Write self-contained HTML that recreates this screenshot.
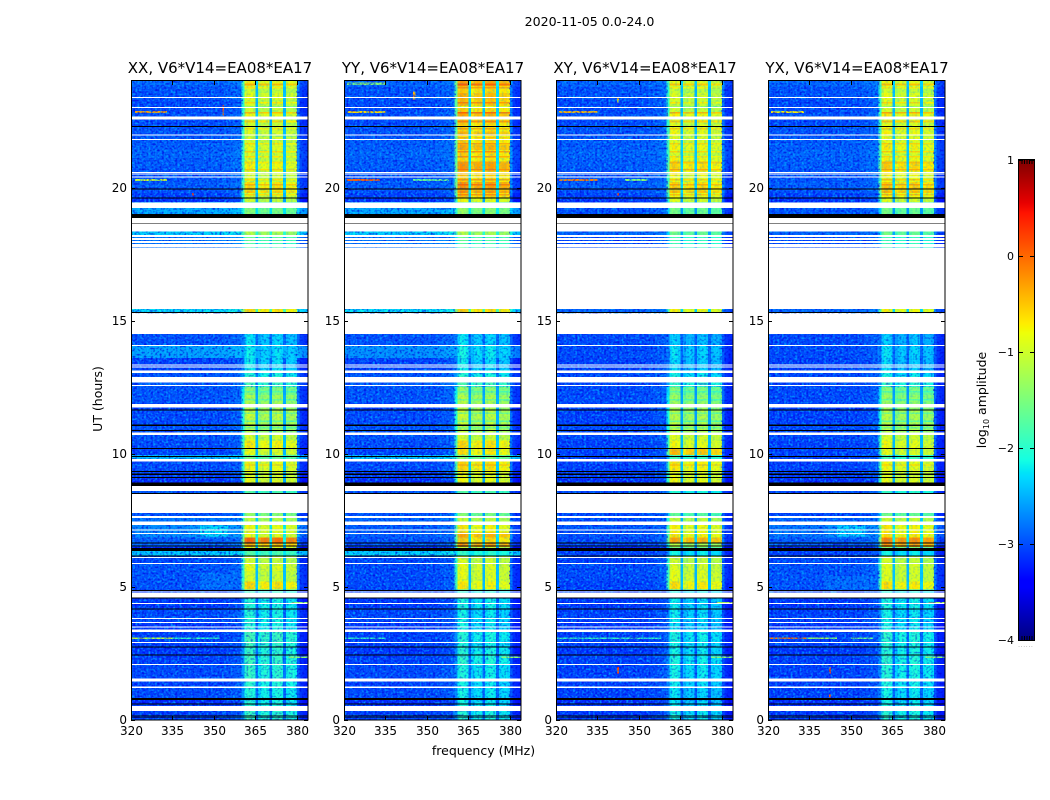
<!DOCTYPE html>
<html>
<head>
<meta charset="utf-8">
<title>Dynamic spectra</title>
<style>
html,body{margin:0;padding:0;background:#fff;width:1050px;height:800px;overflow:hidden}
svg{display:block;font-family:"DejaVu Sans","Liberation Sans",sans-serif;fill:#000}
</style>
</head>
<body>
<svg id="figure" xmlns="http://www.w3.org/2000/svg" width="1050" height="800" viewBox="0 0 1050 800">
  <defs>
    <filter id="speckle-light" x="0" y="0" width="100%" height="100%" color-interpolation-filters="sRGB">
      <feTurbulence type="fractalNoise" baseFrequency="0.45 0.48" numOctaves="1" seed="4"/>
      <feColorMatrix type="matrix" values="0 0 0 0 0  0 0 0 0 0.62  0 0 0 0 1  3.0 0 0 0 -1.35"/>
    </filter>
    <filter id="speckle-dark" x="0" y="0" width="100%" height="100%" color-interpolation-filters="sRGB">
      <feTurbulence type="fractalNoise" baseFrequency="0.45 0.48" numOctaves="1" seed="11"/>
      <feColorMatrix type="matrix" values="0 0 0 0 0  0 0 0 0 0  0 0 0 0 0.85  2.4 0 0 0 -1.15"/>
    </filter>
  </defs>
  <text x="589.5" y="26" font-size="12.6" text-anchor="middle">2020-11-05 0.0-24.0</text>
  <text x="483.5" y="755" font-size="12.5" text-anchor="middle">frequency (MHz)</text>
  <text transform="translate(102,399) rotate(-90)" font-size="12.5" text-anchor="middle">UT (hours)</text>
  <text transform="translate(986,400) rotate(-90)" font-size="12.5" text-anchor="middle">log<tspan font-size="8" dy="3">10</tspan><tspan dy="-3"> amplitude</tspan></text>
  <text x="1026" y="647" font-size="5" fill="#666" text-anchor="middle" letter-spacing="1">......</text>
</svg>
<script>
const panelTitles = ["XX, V6*V14=EA08*EA17", "YY, V6*V14=EA08*EA17", "XY, V6*V14=EA08*EA17", "YX, V6*V14=EA08*EA17"];
const xTicks = [320, 335, 350, 365, 380];
const yTicks = [0, 5, 10, 15, 20];
const colorbarTicks = [1, 0, -1, -2, -3, -4];

const bandEdges = [0, .34, .55, .83, 1.2, 1.5, 2.1, 2.45, 2.75, 2.95,
  3.3, 3.7, 4.2, 4.62, 4.9, 5.2, 5.6, 5.9, 6.15, 6.35,
  6.5, 6.62, 6.85, 7.05, 7.35, 7.6, 7.8, 8.5, 8.9, 9.1,
  9.35, 9.7, 9.95, 10.2, 10.5, 10.8, 11.1, 11.35, 11.65, 11.9,
  12.2, 12.5, 12.9, 13.15, 13.6, 14.05, 14.5, 15.28, 15.45, 17.7,
  18.0, 18.2, 18.35, 18.9, 19.25, 19.45, 19.6, 19.8, 20.0, 20.2,
  20.45, 20.7, 20.9, 21.1, 21.4, 21.6, 21.85, 22.1, 22.35, 22.6,
  22.8, 23.05, 23.3, 23.55, 23.8, 24];

const xxOff = [-3.1, -3.1, -3.2, -3.05, -3.1, -3.05, -3.1, -3.15, -3.1, -3.1,
  -3.15, -3.05, -3.15, -3.1, -3.0, -3.0, -3.0, -3.05, -2.35, -3.3,
  -2.9, -2.95, -2.7, -2.7, -2.8, -3.0, null, -3.0, -3.2, -3.1,
  -3.05, -2.4, -3.1, -3.05, -3.0, -3.0, -3.05, -3.05, -3.1, -3.0,
  -3.0, -2.95, -3.0, -3.1, -2.55, -3.0, null, -2.25, null, -2.8,
  -2.8, -2.3, null, -2.5, -2.5, -3.2, -3.1, -3.0, -2.95, -3.0,
  -3.0, -2.95, -2.95, -2.9, -2.95, -2.95, -3.0, -3.0, -3.05, -3.0,
  -3.05, -3.05, -3.0, -3.0, -2.9];
const xxOn = [-2.1, -2.1, -2.2, -2.2, -2.15, -2.1, -2.05, -2.1, -2.05, -2.0,
  -2.2, -2.2, -2.2, -2.1, -.75, -1.1, -1.0, -1.15, -1.9, -1.0,
  -.55, -.15, -1.0, -.95, -1.25, -1.5, null, -1.9, -1.0, -1.05,
  -.95, -1.7, -1.0, -.85, -1.1, -1.35, -1.25, -1.2, -1.35, -1.35,
  -1.55, -2.0, -2.2, -2.35, -2.35, -2.4, null, -.75, null, -1.9,
  -1.8, -1.3, null, -1.6, -1.7, -1.15, -1.05, -.65, -.8, -1.1,
  -1.05, -.9, -1.1, -1.1, -1.0, -1.1, -1.05, -1.1, -1.15, -.95,
  -1.15, -1.1, -1.0, -1.15, -.9];

const yyOff = [-3.1, -3.1, -3.2, -3.05, -3.1, -3.05, -3.1, -3.15, -3.1, -3.1,
  -3.15, -3.05, -3.15, -3.1, -3.05, -3.05, -3.05, -3.05, -2.3, -3.3,
  -3.0, -3.0, -2.95, -2.95, -2.9, -3.0, null, -3.0, -3.2, -3.1,
  -3.05, -2.35, -3.1, -3.05, -3.0, -3.0, -3.05, -3.05, -3.1, -3.0,
  -3.0, -2.95, -3.0, -3.1, -2.65, -3.0, null, -2.25, null, -2.8,
  -2.8, -2.3, null, -2.5, -2.5, -3.2, -3.1, -3.0, -2.95, -3.0,
  -3.0, -2.95, -2.95, -2.9, -2.95, -2.95, -3.0, -3.0, -3.05, -3.0,
  -3.05, -3.05, -3.0, -3.0, -2.9];
const yyOn = [-2.2, -2.2, -2.3, -2.3, -2.3, -2.25, -2.15, -2.2, -2.25, -2.2,
  -2.3, -2.3, -2.25, -2.2, -.85, -1.0, -1.0, -1.1, -2.1, -1.2,
  -.4, -.7, -.5, -.85, -1.2, -1.6, null, -1.9, -.95, -.95,
  -.75, -1.6, -.8, -.75, -1.1, -1.25, -1.2, -1.2, -1.3, -1.3,
  -1.5, -1.95, -2.2, -2.35, -2.3, -2.4, null, -.7, null, -1.9,
  -1.8, -1.3, null, -1.5, -1.6, -.95, -.65, -.35, -.4, -.7,
  -.6, -.4, -.75, -.7, -.5, -.7, -.55, -.75, -.7, -.5,
  -.7, -.6, -.55, -.7, -.45];

const xyOff = [-3.15, -3.15, -3.2, -3.1, -3.1, -3.1, -3.1, -3.15, -3.1, -3.1,
  -3.15, -3.1, -3.15, -3.1, -3.1, -3.05, -3.05, -3.1, -3.1, -3.35,
  -3.05, -3.05, -3.0, -3.0, -3.05, -3.05, null, -3.05, -3.2, -3.1,
  -3.1, -3.1, -3.1, -3.1, -3.05, -3.05, -3.1, -3.1, -3.1, -3.05,
  -3.05, -3.05, -3.05, -3.1, -3.05, -3.05, null, -2.9, null, -3.05,
  -3.05, -2.9, null, -3.0, -3.0, -3.2, -3.1, -3.0, -2.95, -3.0,
  -3.0, -2.95, -2.95, -2.9, -2.95, -2.95, -3.0, -3.0, -3.05, -3.0,
  -3.05, -3.05, -3.0, -3.0, -2.9];
const xyOn = [-2.3, -2.3, -2.4, -2.4, -2.35, -2.3, -2.25, -2.3, -2.3, -2.25,
  -2.4, -2.35, -2.35, -2.3, -.8, -1.0, -1.05, -1.15, -2.3, -1.7,
  -1.3, -.5, -.85, -.9, -1.2, -1.8, null, -2.2, -.95, -1.0,
  -.85, -2.0, -.6, -.95, -1.05, -1.25, -1.3, -1.3, -1.4, -1.45,
  -1.6, -2.1, -2.3, -2.45, -2.4, -2.5, null, -.9, null, -2.0,
  -2.0, -1.7, null, -1.7, -1.7, -1.05, -.95, -.6, -.75, -1.0,
  -.85, -.75, -.9, -1.1, -.9, -1.05, -.95, -1.0, -1.1, -.9,
  -1.15, -1.15, -1.05, -1.2, -1.0];

const yxOff = [-3.15, -3.15, -3.2, -3.1, -3.1, -3.1, -3.1, -3.15, -3.1, -3.1,
  -3.15, -3.1, -3.15, -3.1, -3.0, -3.0, -3.0, -3.05, -3.1, -3.35,
  -2.95, -2.95, -2.8, -2.8, -2.9, -3.05, null, -3.05, -3.2, -3.1,
  -3.1, -3.1, -3.1, -3.1, -3.05, -3.05, -3.1, -3.1, -3.1, -3.05,
  -3.05, -3.05, -3.05, -3.1, -3.05, -3.05, null, -2.9, null, -3.05,
  -3.05, -2.9, null, -3.0, -3.0, -3.2, -3.1, -3.0, -2.95, -3.0,
  -3.0, -2.95, -2.95, -2.9, -2.95, -2.95, -3.0, -3.0, -3.05, -3.0,
  -3.05, -3.05, -3.0, -3.0, -2.9];
const yxOn = [-2.2, -2.2, -2.3, -2.3, -2.25, -2.2, -2.15, -2.2, -2.2, -2.15,
  -2.3, -2.3, -2.25, -2.25, -.8, -1.05, -1.05, -1.15, -2.3, -1.6,
  -.4, -.3, -.8, -.85, -1.15, -1.7, null, -2.1, -1.0, -1.05,
  -.95, -2.0, -1.0, -.95, -1.1, -1.3, -1.3, -1.3, -1.45, -1.45,
  -1.6, -2.1, -2.3, -2.45, -2.4, -2.5, null, -.9, null, -2.0,
  -2.0, -1.7, null, -1.7, -1.7, -1.05, -.9, -.55, -.7, -.95,
  -.85, -.7, -.9, -1.05, -.85, -1.0, -.9, -1.0, -1.05, -.85,
  -1.1, -1.05, -1.0, -1.15, -.95];

const channelsMHz = [320, 321, 322, 323, 324, 325, 326, 327, 328, 329,
  330, 331, 332, 333, 334, 335, 336, 337, 338, 339,
  340, 341, 342, 343, 344, 345, 346, 347, 348, 349,
  350, 351, 352, 353, 354, 355, 356, 357, 358, 359,
  360, 361, 362, 363, 364, 365, 366, 367, 368, 369,
  370, 371, 372, 373, 374, 375, 376, 377, 378, 379,
  380, 381, 382, 383];
const channelOnWeight = [0, 0, 0, 0, 0, 0, 0, 0, 0, 0,
  0, 0, 0, 0, 0, 0, 0, 0, 0, 0,
  0, 0, 0, 0, 0, 0, 0, 0, 0, 0,
  0, 0, 0, 0, 0, 0, 0, 0, 0, 0,
  .6, 1, 1, 1, 1, .3, 1, 1, 1, 1,
  .28, 1, 1, 1, 1, .3, 1, 1, 1, 1,
  .1, 0, 0, 0];
const channelRipple = [.04, -.06, .02, .05, -.03, 0, .06, -.04, .02, -.02,
  .03, -.05, .04, .01, -.02, .05, -.04, .02, 0, -.03,
  .04, .02, -.05, .03, .01, -.02, .05, .02, -.03, .04,
  .02, .03, -.02, .05, .04, .06, .08, .1, .12, .14,
  -.1, .1, .22, .18, .12, 0, -.12, .02, .08, .02,
  0, .04, .12, .14, .06, 0, -.05, .02, .02, -.06,
  .08, -.04, -.1, -.12];

const flaggedHours = [[.34, .53], [1.21, 1.25], [1.45, 1.56], [2.07, 2.11], [2.89, 2.93], [3.31, 3.4], [3.47, 3.51], [3.64, 3.68], [3.8, 3.84], [4.36, 4.4],
  [4.6, 4.78], [4.83, 4.88], [5.86, 5.9], [6.09, 6.13], [6.99, 7.03], [7.11, 7.15], [7.33, 7.45], [7.59, 7.66], [7.78, 8.5], [8.6, 8.79],
  [9.71, 9.8], [10.7, 10.79], [11.73, 11.86], [12.55, 12.58], [12.67, 12.88], [13.03, 13.13], [13.24, 13.27], [13.31, 13.35], [14.05, 14.09], [14.49, 15.26],
  [15.43, 17.75], [17.76, 17.87], [17.91, 17.99], [18.03, 18.1], [18.14, 18.21], [18.34, 18.65], [18.67, 18.86], [19.23, 19.43], [20.38, 20.41], [20.48, 20.52],
  [20.55, 20.59], [21.78, 21.82], [21.95, 21.99], [22.55, 22.66], [22.99, 23.03], [23.36, 23.4]];
const zeroHours = [[.07, .1], [.13, .17], [.58, .62], [.75, .83], [2.42, 2.46], [2.72, 2.76], [4.15, 4.19], [4.56, 4.6], [4.85, 4.89], [6.14, 6.18],
  [6.35, 6.46], [6.52, 6.56], [6.62, 6.66], [8.49, 8.52], [8.79, 8.92], [9.08, 9.12], [9.21, 9.25], [9.31, 9.35], [9.88, 9.92], [10.17, 10.21],
  [10.86, 10.9], [11.05, 11.09], [11.62, 11.66], [15.28, 15.32], [18.65, 18.67], [18.86, 19.01], [19.58, 19.62], [19.93, 19.96], [22.27, 22.31]];

const xxFeatures = [[22.8, 22.87, 321.5, 333, -.3], [20.25, 20.31, 321.5, 333, -1.0], [3.04, 3.1, 320, 335, -1.1], [3.04, 3.1, 335, 352, -1.9],
  [6.85, 7.35, 341, 360, -2.6], [6.9, 7.3, 345, 355, -2.25], [4.9, 5.5, 345, 358, -2.85], [2.33, 2.38, 377, 384, -1.4], [4.38, 4.43, 378, 384, -1.4], [22.7, 23.1, 353, 353.7, .1], [19.7, 19.8, 342, 342.8, .3]];
const yyFeatures = [[22.8, 22.87, 321, 335, -.6], [20.25, 20.31, 321, 333, .05], [20.25, 20.31, 345, 358, -1.6], [23.85, 23.95, 321, 335, -1.4],
  [2.33, 2.38, 377, 384, -1.4], [3.04, 3.1, 320, 335, -1.9], [23.3, 23.6, 345, 345.8, -.4]];
const xyFeatures = [[22.8, 22.87, 321, 335, -.4], [20.25, 20.31, 321, 335, -.1], [20.25, 20.31, 345, 353, -1.4], [3.04, 3.1, 320, 358, -1.9],
  [2.33, 2.38, 376, 384, -1.4], [4.38, 4.43, 378, 384, -1.2], [1.75, 2.0, 342, 342.8, .2], [19.7, 19.8, 342, 342.8, .3], [23.2, 23.4, 342, 342.8, -.5]];
const yxFeatures = [[22.8, 22.87, 321, 333, -.7], [3.04, 3.1, 320, 334, -.05], [3.04, 3.1, 334, 345, -1.3], [3.04, 3.1, 350, 358, -1.6],
  [6.85, 7.35, 341, 360, -2.65], [6.9, 7.3, 345, 355, -2.3], [4.9, 5.4, 340, 358, -2.85], [2.33, 2.38, 377, 384, -1.4], [4.38, 4.43, 378, 384, -1.2], [1.75, 2.0, 342, 342.8, .2], [.85, .95, 342, 342.8, .1]];

const passbandStreaks = [[23.83, 23.9, .35], [23.72, 23.77, .3], [23.15, 23.21, .3], [23.03, 23.07, -.35], [22.78, 22.84, .35], [22.45, 22.52, .4],
  [22.18, 22.24, .3], [21.9, 21.94, -.3], [21.62, 21.68, .3], [21.32, 21.38, .35], [21.13, 21.19, .3], [20.91, 20.97, .3],
  [20.64, 20.7, .35], [20.26, 20.32, .3], [20.08, 20.14, .25], [19.88, 19.94, -.25], [19.7, 19.76, .3],
  [12.3, 12.35, -.3], [12.0, 12.05, -.4], [11.5, 11.55, -.4], [11.2, 11.25, -.5], [10.95, 11.0, -.4], [9.55, 9.6, .3]];
const subBands = [[361, 365], [366, 370], [371, 375], [376, 380]];
const noisyPassbandHours = [[0, 4.62], [12.5, 14.5]];

const panelOff = [xxOff, yyOff, xyOff, yxOff];
const panelOn = [xxOn, yyOn, xyOn, yxOn];
const panelFeatures = [xxFeatures, yyFeatures, xyFeatures, yxFeatures];

const NS = "http://www.w3.org/2000/svg";
const svg = document.getElementById("figure");
const panelLeft = [131, 344, 556, 768];
const plotTop = 81, plotBottom = 720, plotWidth = 177;
const freqMin = 320, freqMax = 384, hourMax = 24;
const barLeft = 1019, barRight = 1034, barTop = 160, barBottom = 640, levelMin = -4, levelMax = 1;

function xScale(panel, mhz) { return panelLeft[panel] + (mhz - freqMin) / (freqMax - freqMin) * plotWidth; }
function yScale(hour) { return plotBottom - hour / hourMax * (plotBottom - plotTop); }
function barScale(level) { return barBottom - (level - levelMin) / (levelMax - levelMin) * (barBottom - barTop); }
function bandAt(hour) {
  for (let b = 0; b < bandEdges.length - 1; b++) {
    if (hour < bandEdges[b + 1]) return b;
  }
  return bandEdges.length - 2;
}

function ramp(t, stops) {
  for (let i = 1; i < stops.length; i++) {
    if (t <= stops[i][0]) {
      const a = stops[i - 1], b = stops[i];
      return a[1] + (b[1] - a[1]) * (t - a[0]) / (b[0] - a[0]);
    }
  }
  return stops[stops.length - 1][1];
}
const jetR = [[0, 0], [.35, 0], [.66, 1], [.89, 1], [1, .5]];
const jetG = [[0, 0], [.125, 0], [.375, 1], [.64, 1], [.91, 0], [1, 0]];
const jetB = [[0, .5], [.11, 1], [.34, 1], [.65, 0], [1, 0]];
function jet(level) {
  const t = Math.max(0, Math.min(1, (level - levelMin) / (levelMax - levelMin)));
  return "rgb(" + Math.round(255 * ramp(t, jetR)) + "," + Math.round(255 * ramp(t, jetG)) + "," + Math.round(255 * ramp(t, jetB)) + ")";
}

function box(parent, x, y, w, h, fill) {
  const r = document.createElementNS(NS, "rect");
  r.setAttribute("x", x);
  r.setAttribute("y", y);
  r.setAttribute("width", w);
  r.setAttribute("height", h);
  r.setAttribute("fill", fill);
  r.setAttribute("shape-rendering", "crispEdges");
  parent.appendChild(r);
  return r;
}
function label(parent, x, y, str, size, anchor) {
  const t = document.createElementNS(NS, "text");
  t.setAttribute("x", x);
  t.setAttribute("y", y);
  t.setAttribute("font-size", size);
  t.setAttribute("text-anchor", anchor);
  t.textContent = str;
  parent.appendChild(t);
  return t;
}

panelTitles.forEach(function (title, p) {
  const g = document.createElementNS(NS, "g");
  
  
  svg.appendChild(g);

  const left = panelLeft[p];

  // heatmap cells
  const cells = document.createElementNS(NS, "g");
  
  
  g.appendChild(cells);
  panelOff[p].forEach(function (off, b) {
    const on = panelOn[p][b];
    if (off === null || on === null) return;
    const yTop = yScale(bandEdges[b + 1]);
    const yBot = yScale(bandEdges[b]);
    channelsMHz.forEach(function (mhz, c) {
      const level = off + (on - off) * channelOnWeight[c] + channelRipple[c];
      const cell = box(cells, xScale(p, mhz), yTop, xScale(p, mhz + 1) - xScale(p, mhz), yBot - yTop, jet(level));
      
      
    });
  });

  // narrowband features
  panelFeatures[p].forEach(function (f) {
    const yTop = yScale(f[1]);
    const line = box(cells, xScale(p, f[2]), yTop, xScale(p, f[3]) - xScale(p, f[2]), yScale(f[0]) - yTop, jet(f[4]));
    
    
  });

  // horizontal streaks inside each sub-band of the passband
  passbandStreaks.forEach(function (s) {
    const base = panelOn[p][bandAt(s[0])];
    if (base === null) return;
    subBands.forEach(function (sb, i) {
      const yTop = yScale(s[1]);
      const streak = box(cells, xScale(p, sb[0]), yTop, xScale(p, sb[1]) - xScale(p, sb[0]), yScale(s[0]) - yTop, jet(base + s[2] + channelRipple[sb[0] + 2 - freqMin]));
      
      
    });
  });

  // speckle texture: full strength off-band, weak over the bright passband
  const quietWidth = xScale(p, 360.4) - left;
  const tailStart = xScale(p, 379.8);
  const light = box(g, left, plotTop, quietWidth, plotBottom - plotTop, "#000");
  light.setAttribute("filter", "url(#speckle-light)");
  
  
  const dark = box(g, left, plotTop, quietWidth, plotBottom - plotTop, "#000");
  dark.setAttribute("filter", "url(#speckle-dark)");
  
  
  const tail = box(g, tailStart, plotTop, left + plotWidth - tailStart, plotBottom - plotTop, "#000");
  tail.setAttribute("filter", "url(#speckle-dark)");
  
  
  const pass = box(g, left + quietWidth, plotTop, tailStart - left - quietWidth, plotBottom - plotTop, "#000");
  pass.setAttribute("filter", "url(#speckle-light)");
  pass.setAttribute("opacity", "0.3");
  
  
  noisyPassbandHours.forEach(function (h) {
    const yTop = yScale(h[1]);
    const patch = box(g, left + quietWidth, yTop, tailStart - left - quietWidth, yScale(h[0]) - yTop, "#000");
    patch.setAttribute("filter", "url(#speckle-dark)");
    patch.setAttribute("opacity", "0.7");
    
    
  });

  // flagged rows
  flaggedHours.forEach(function (h) {
    const yTop = yScale(h[1]);
    const row = box(g, left, yTop, plotWidth, yScale(h[0]) - yTop, "#fff");
    
    
  });
  zeroHours.forEach(function (h) {
    const yTop = yScale(h[1]);
    const row = box(g, left, yTop, plotWidth, yScale(h[0]) - yTop, "#000");
    
    
  });

  // frame
  const frame = document.createElementNS(NS, "rect");
  frame.setAttribute("x", left + .5);
  frame.setAttribute("y", plotTop - .5);
  frame.setAttribute("width", plotWidth - .5);
  frame.setAttribute("height", plotBottom - plotTop + .5);
  frame.setAttribute("fill", "none");
  frame.setAttribute("stroke", "#000");
  
  
  g.appendChild(frame);

  // x ticks
  xTicks.forEach(function (tick) {
    const x = Math.round(xScale(p, tick));
    const lower = box(g, x, plotBottom - 4, 1, 4, "#000");
    
    
    const upper = box(g, x, plotTop, 1, 4, "#000");
    
    
    const txt = label(g, x + .5, 735, String(tick), 12, "middle");
    
    
  });

  // y ticks
  yTicks.forEach(function (tick) {
    const y = Math.round(yScale(tick));
    const inner = box(g, left, y, 4, 1, "#000");
    
    
    const outer = box(g, left + plotWidth - 4, y, 4, 1, "#000");
    
    
    const txt = label(g, left - 4, y + 4, String(tick), 12, "end");
    
    
  });

  const head = label(g, left + 89, 73, title, 15, "middle");
  
  
});

// colorbar
const bar = document.createElementNS(NS, "g");


svg.appendChild(bar);
for (let py = barTop; py < barBottom; py++) {
  const swatch = box(bar, barLeft, py, barRight - barLeft, 1, jet(levelMax - (py + .5 - barTop) / (barBottom - barTop) * (levelMax - levelMin)));
  
  
}
const barFrame = document.createElementNS(NS, "rect");
barFrame.setAttribute("x", barLeft - .5);
barFrame.setAttribute("y", barTop - .5);
barFrame.setAttribute("width", barRight - barLeft + 1);
barFrame.setAttribute("height", barBottom - barTop + 1);
barFrame.setAttribute("fill", "none");
barFrame.setAttribute("stroke", "#000");


bar.appendChild(barFrame);
colorbarTicks.forEach(function (tick) {
  const y = Math.round(barScale(tick));
  const a = box(bar, barLeft, y, 4, 1, "#000");
  
  
  const b = box(bar, barRight - 4, y, 4, 1, "#000");
  
  
  const txt = label(bar, 1014, y + 4, String(tick).replace("-", "\u2212"), 11, "end");
  
  
});
for (let i = 1; i < 6; i++) {
  const m1 = box(bar, barLeft + i * 2.5, barTop, 1, 4, "#000");
  
  
  const m2 = box(bar, barLeft + i * 2.5, barBottom - 4, 1, 4, "#000");
  
  
}
</script>
</body>
</html>
